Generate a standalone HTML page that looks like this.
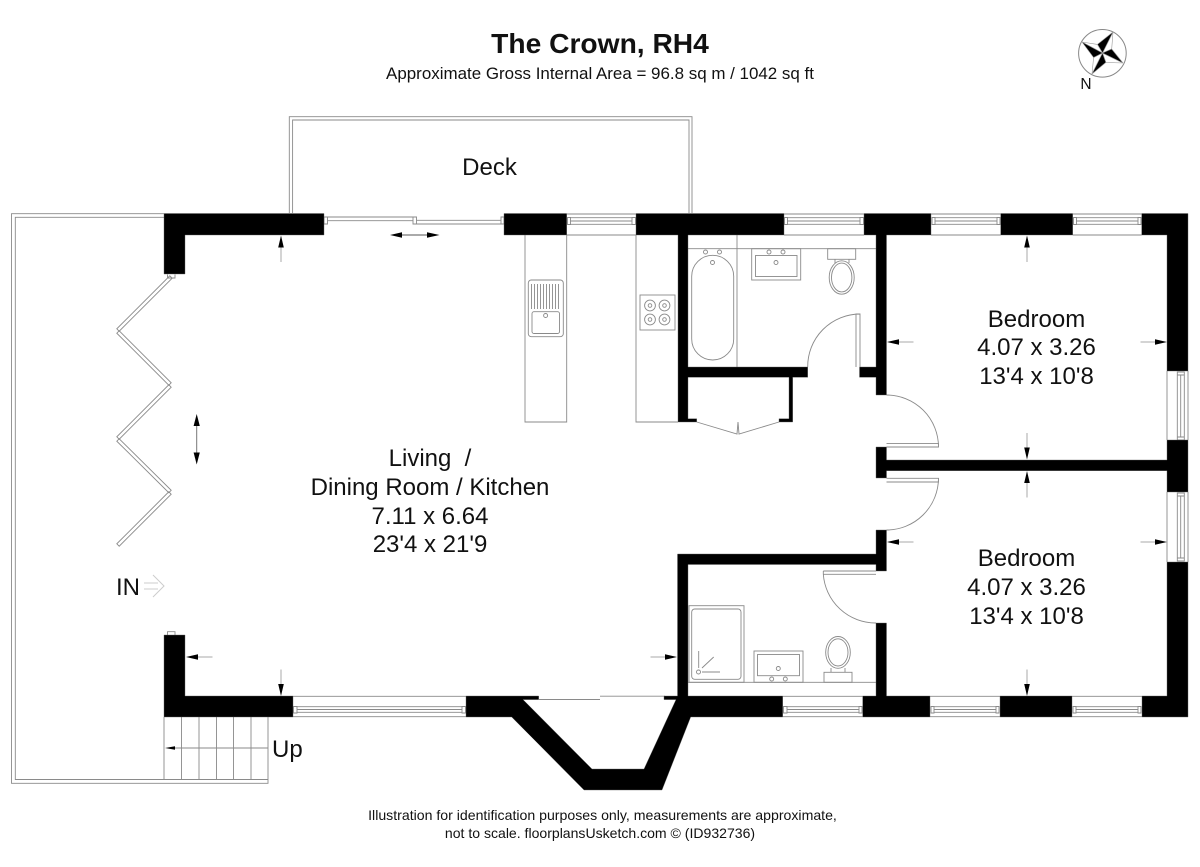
<!DOCTYPE html>
<html><head><meta charset="utf-8"><style>
html,body{margin:0;padding:0;background:#fff}
svg{display:block}
text{font-family:"Liberation Sans",sans-serif;fill:#111}
.l{fill:none;stroke:#8a8a8a;stroke-width:.9}
.w{fill:#000;stroke:#666;stroke-width:.4}
</style></head><body>
<svg width="1200" height="867" viewBox="0 0 1200 867" xmlns="http://www.w3.org/2000/svg">
<defs>
<g id="a"><line x1="0" y1="11" x2="0" y2="26.5" stroke="#aaa" stroke-width="1"/><polygon points="0,0 -2.8,12 2.8,12" fill="#000"/></g>
</defs>
<rect width="1200" height="867" fill="#fff"/>

<!-- titles -->
<text x="600" y="53" font-size="28.2" font-weight="bold" text-anchor="middle">The Crown, RH4</text>
<text x="600" y="79" font-size="16.95" text-anchor="middle">Approximate Gross Internal Area = 96.8 sq m / 1042 sq ft</text>

<!-- compass -->
<circle cx="1102.4" cy="53.3" r="23.8" fill="#fff" stroke="#888" stroke-width="1"/>
<g stroke="#999" stroke-width=".6">
<polygon points="1113,32 1102.5,53 1111.7,49" fill="#fff"/>
<polygon points="1113,32 1102.5,53 1097.4,44.4" fill="#000"/>
<polygon points="1123,63 1102.5,53 1105.9,62.4" fill="#fff"/>
<polygon points="1123,63 1102.5,53 1111.7,49" fill="#000"/>
<polygon points="1092,74 1102.5,53 1093.6,57.5" fill="#fff"/>
<polygon points="1092,74 1102.5,53 1105.9,62.4" fill="#000"/>
<polygon points="1082,42 1102.5,53 1097.4,44.4" fill="#fff"/>
<polygon points="1082,42 1102.5,53 1093.6,57.5" fill="#000"/>
</g>
<text x="1086" y="89" font-size="15.5" text-anchor="middle">N</text>

<!-- deck and outer rail -->
<path class="l" d="M289.3 213V116.7H692V213M292.6 213V120H689V213"/>
<path class="l" d="M164 213.7H11.5V783.3H268V717M164 217.3H15.3V779.5H268"/>

<!-- stairs -->
<path class="l" d="M164 717V780M181.5 717V780M199 717V780M216.5 717V780M233.5 717V780M251 717V780M175 748H268"/>
<polygon points="165,748 175,746.3 175,749.7" fill="#000"/>

<!-- counters -->
<path class="l" d="M525 235V422H566.7V235M636 235V422H678"/>

<!-- sink -->
<rect class="l" x="528.3" y="280" width="35" height="56.7" rx="3"/>
<rect class="l" x="532" y="311.7" width="27.5" height="21.8" rx="2"/>
<path class="l" d="M531.5 284V309M534.5 284V309M537.5 284V309M540.5 284V309M543.5 284V309M546.5 284V309M549.5 284V309M552.5 284V309M555.5 284V309M558.5 284V309"/>
<circle class="l" cx="545.6" cy="315.5" r="2"/>

<!-- hob -->
<rect class="l" x="640" y="295" width="35" height="35"/>
<g class="l">
<circle cx="650" cy="305.5" r="5.4"/><circle cx="650" cy="305.5" r="1.8"/>
<circle cx="664.5" cy="305.5" r="5.4"/><circle cx="664.5" cy="305.5" r="1.8"/>
<circle cx="650" cy="319.5" r="5.4"/><circle cx="650" cy="319.5" r="1.8"/>
<circle cx="664.5" cy="319.5" r="5.4"/><circle cx="664.5" cy="319.5" r="1.8"/>
</g>

<!-- bathroom fittings -->
<path class="l" d="M688 248.7H876M737 235V367"/>
<rect class="l" x="691.7" y="255.3" width="42" height="104.7" rx="21" ry="21"/>
<g class="l"><circle cx="705.5" cy="252" r="2"/><circle cx="719.5" cy="252" r="2"/><circle cx="712.5" cy="262.5" r="2"/>
<rect x="751.7" y="248.7" width="49" height="31.3"/><rect x="755.5" y="255.5" width="41.5" height="21"/>
<circle cx="769" cy="252" r="2"/><circle cx="783" cy="252" r="2"/><circle cx="776" cy="262.5" r="2"/>
<rect x="827.7" y="248.7" width="28" height="10.6"/><path d="M835 259.3V263M849 259.3V263"/>
<ellipse cx="841.7" cy="277.5" rx="12.5" ry="16.7"/><ellipse cx="841.7" cy="277.5" rx="10.2" ry="14.4"/></g>

<!-- bathroom door -->
<path class="l" d="M807.7 367A52.5 52.5 0 0 1 860 314M856 367V314H860V367"/>
<!-- closet doors -->
<path class="l" d="M696.7 422L737 434L738 422L739 434L779 422"/>

<!-- ensuite fittings -->
<path class="l" d="M688 682.3H876"/>
<g class="l"><rect x="689" y="605.7" width="55" height="76.6"/><rect x="691.7" y="609" width="49.3" height="70.3" rx="3"/>
<circle cx="698.5" cy="672" r="2"/><path d="M698.7 651V668M702 672H720M702 668L713.7 657"/>
<rect x="754" y="651" width="49" height="31.3"/><rect x="757.5" y="654.5" width="42" height="21.2"/>
<circle cx="778.3" cy="668.5" r="2"/><circle cx="771.7" cy="679" r="2"/><circle cx="785.3" cy="679" r="2"/>
<rect x="824" y="672.3" width="28" height="10"/><path d="M831 668V672.3M845 668V672.3"/>
<ellipse cx="838" cy="652.4" rx="12.3" ry="15.9"/><ellipse cx="838" cy="652.4" rx="10" ry="13.6"/></g>
<path class="l" d="M823.3 571H876M823.3 574.3H876M823.3 571V574.3M823.3 574A52.5 52.5 0 0 0 876 623"/>

<!-- bedroom doors -->
<path class="l" d="M886.5 395A52 52 0 0 1 938.5 447M886.5 443.4H938.5V447H886.5"/>
<path class="l" d="M886.5 478.3H938.5V482H886.5M938.5 478.3A52 52 0 0 1 886.5 530"/>

<!-- windows top -->
<path class="l" d="M566.7 214H636M566.7 235H636M570.5 217.7H632M570.5 221H632M570.5 224.3H632M567.5 217.5H570.5V224.5H567.5ZM632 217.5H635.5V224.5H632Z"/>
<path class="l" d="M784 214H864M784 235H864M787.5 217.7H860M787.5 221H860M787.5 224.3H860M784.5 217.5H787.5V224.5H784.5ZM860 217.5H863.5V224.5H860Z"/>
<path class="l" d="M931 214H1000.7M931 235H1000.7M935 217.7H997M935 221H997M935 224.3H997M932 217.5H935V224.5H932ZM997 217.5H1000V224.5H997Z"/>
<path class="l" d="M1072.7 214H1141.7M1072.7 235H1141.7M1076.5 217.7H1138M1076.5 221H1138M1076.5 224.3H1138M1073.5 217.5H1076.5V224.5H1073.5ZM1138 217.5H1141V224.5H1138Z"/>

<!-- sliding door top -->
<path class="l" d="M327.5 217H413M327.5 220.7H413M324 217H327.5V224H324ZM416.5 220.3H501M416.5 224H501M413 217H416.5V224H413ZM501 217H504V224H501Z"/>

<!-- windows right -->
<path class="l" d="M1167 371V440M1188 371V440M1177.3 375V437M1180.7 375V437M1184.3 375V437M1177.3 372H1184.3V375H1177.3ZM1177.3 437H1184.3V440H1177.3Z"/>
<path class="l" d="M1167 492V562M1188 492V562M1177.3 496V558M1180.7 496V558M1184.3 496V558M1177.3 493H1184.3V496H1177.3ZM1177.3 558H1184.3V561H1177.3Z"/>

<!-- windows bottom -->
<path class="l" d="M293 696.3H466M293 716.7H466M297 706.7H462M297 709.5H462M297 712.3H462M293.5 706.5H297V713H293.5ZM462 706.5H465.5V713H462Z"/>
<path class="l" d="M782.7 696.3H862.7M782.7 716.7H862.7M787 706.7H859M787 709.5H859M787 712.3H859M783.5 706.5H787V713H783.5ZM859 706.5H862V713H859Z"/>
<path class="l" d="M930 696.3H1000M930 716.7H1000M934 706.7H996M934 709.5H996M934 712.3H996M931 706.5H934V713H931ZM996 706.5H999V713H996Z"/>
<path class="l" d="M1072 696.3H1142M1072 716.7H1142M1076 706.7H1138M1076 709.5H1138M1076 712.3H1138M1073 706.5H1076V713H1073ZM1138 706.5H1141V713H1138Z"/>
<path class="l" d="M539 699.5H600M600 696.2H665"/>

<!-- bifold -->
<g class="l">
<polygon points="172.2,278.2 119.2,331.2 116.8,328.8 169.8,275.8"/>
<polygon points="119.2,330.8 171.2,382.8 168.8,385.2 116.8,333.2"/>
<polygon points="171.2,387.2 119.2,439.2 116.8,436.8 168.8,384.8"/>
<polygon points="119.2,438.8 171.2,490.3 168.8,492.7 116.8,441.2"/>
<polygon points="171.2,494.2 119.2,546.2 116.8,543.8 168.8,491.8"/>
</g>
<path class="l" d="M167.5 274.5V278H175V274.5M167.5 635V631.7H175V635"/>

<!-- walls -->
<g class="w">
<path d="M164 213.5H324V235H185V274H164Z"/>
<path d="M504 213.5H566.7V235H504Z"/>
<path d="M636 213.5H784V235H688V367H807.7V377.3H792.7V422H779V418.7H789V377.3H688V418.7H696.7V422H678V235H636Z"/>
<path d="M864 213.5H931V235H886.5V395H876V377.3H859.5V367H876V235H864Z"/>
<path d="M1000.7 213.5H1072.7V235H1000.7Z"/>
<path d="M1141.7 213.5H1188V371H1167V235H1141.7Z"/>
<path d="M876 447H886.5V460H1167V440H1188V492H1167V470.7H886.5V478H876Z"/>
<path d="M876 530H886.5V571H876V564.5H688V696H782.7V717H690.7L662 790H584L511.7 717H466V696H538.7V699.6H523L592 769H644L676 699.6H664V696H677.5V554H876Z"/>
<path d="M876 623H886.5V696H930V717H862.7V696H876Z"/>
<path d="M1000 696H1072V717H1000Z"/>
<path d="M1167 562H1188V717H1142V696H1167Z"/>
<path d="M164 635H185V696H293V717H164Z"/>
</g>

<!-- dimension arrows -->
<use href="#a" transform="translate(281,235.5)"/>
<use href="#a" transform="translate(281,696) rotate(180)"/>
<use href="#a" transform="translate(186,657) rotate(-90)"/>
<use href="#a" transform="translate(677,657) rotate(90)"/>
<use href="#a" transform="translate(1027,235.5)"/>
<use href="#a" transform="translate(1027,459.5) rotate(180)"/>
<use href="#a" transform="translate(1027,471)"/>
<use href="#a" transform="translate(1027,696) rotate(180)"/>
<use href="#a" transform="translate(887,342) rotate(-90)"/>
<use href="#a" transform="translate(1167,342) rotate(90)"/>
<use href="#a" transform="translate(887,542) rotate(-90)"/>
<use href="#a" transform="translate(1167,542) rotate(90)"/>

<!-- double arrows -->
<line x1="395" y1="235" x2="435" y2="235" stroke="#555" stroke-width=".9"/>
<polygon points="390,235 402,232.2 402,237.8" fill="#000"/>
<polygon points="439.5,235 427,232.2 427,237.8" fill="#000"/>
<line x1="196.7" y1="420" x2="196.7" y2="458" stroke="#777" stroke-width="1"/>
<polygon points="196.7,414 193.6,426 199.8,426" fill="#000"/>
<polygon points="196.7,464.5 193.6,452.5 199.8,452.5" fill="#000"/>

<!-- IN arrow -->
<path d="M144 583H158M144 589H158M153 575L164 586L153 597" fill="none" stroke="#ccc" stroke-width="1"/>

<!-- labels -->
<g font-size="24">
<text x="489.5" y="175" text-anchor="middle">Deck</text>
<text x="430" y="466" text-anchor="middle" xml:space="preserve">Living  /</text>
<text x="430" y="495" text-anchor="middle">Dining Room / Kitchen</text>
<text x="430" y="524" text-anchor="middle">7.11 x 6.64</text>
<text x="430" y="552" text-anchor="middle">23'4 x 21'9</text>
<text x="1036.5" y="327" text-anchor="middle">Bedroom</text>
<text x="1036.5" y="355" text-anchor="middle">4.07 x 3.26</text>
<text x="1036.5" y="384" text-anchor="middle">13'4 x 10'8</text>
<text x="1026.5" y="566" text-anchor="middle">Bedroom</text>
<text x="1026.5" y="595" text-anchor="middle">4.07 x 3.26</text>
<text x="1026.5" y="624" text-anchor="middle">13'4 x 10'8</text>
<text x="116" y="595">IN</text>
<text x="272" y="757">Up</text>
</g>
<text x="602.5" y="820" font-size="14.12" text-anchor="middle">Illustration for identification purposes only, measurements are approximate,</text>
<text x="600" y="838" font-size="14.05" text-anchor="middle">not to scale. floorplansUsketch.com © (ID932736)</text>
</svg>
</body></html>
